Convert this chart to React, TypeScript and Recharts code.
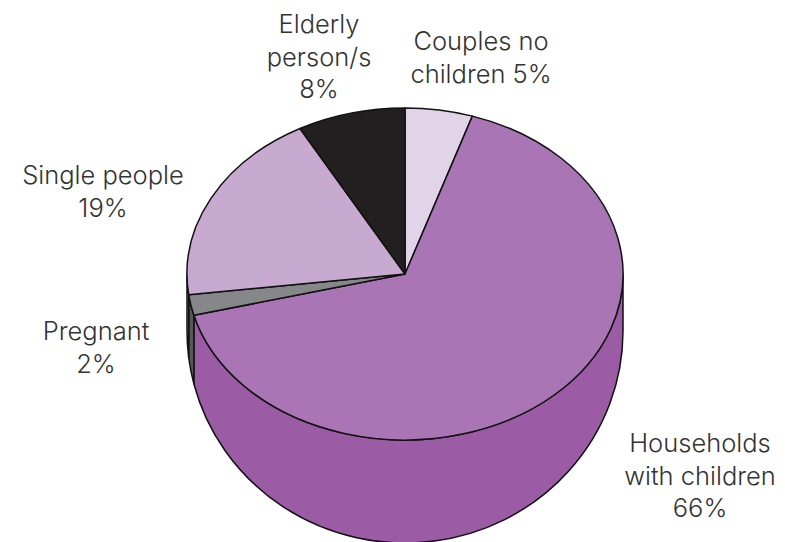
import { Pie, PieChart, Cell } from "recharts";

const categories = ["Couples no children", "Households with children", "Pregnant", "Single people", "Elderly person/s"];
const shares = [5, 66, 2, 19, 8];
const labelLines = [
  ["Couples no", "children 5%"],
  ["Households", "with children", "66%"],
  ["Pregnant", "2%"],
  ["Single people", "19%"],
  ["Elderly", "person/s", "8%"],
];
const topColors = ["#e2d4e8", "#a975b4", "#858788", "#c8a9d0", "#231f20"];
const sideColors = ["#c6b3cf", "#9b5ba5", "#58595b", "#b592c0", "#111111"];

const tableData = categories.map((name, i) => ({ name, value: shares[i] }));

const WIDTH = 785;
const HEIGHT = 542;
const CX = 405;
const CY = 274;
const RADIUS = 218;
const SQUASH = 166 / 218; // vertical flattening of the disc
// lower edge of the wall is a rounder arc than the disc rim
const BASE_CY = 331;
const BASE_RY = 212;

// centre x and first baseline of each text block
const labelSpots = [
  { x: 481, y: 50 },
  { x: 700, y: 452 },
  { x: 96, y: 340 },
  { x: 103, y: 184 },
  { x: 319, y: 33 },
];
const LINE_HEIGHT = 32.5;

const rad = (deg: number) => (deg * Math.PI) / 180;
const rimX = (cx: number, r: number, deg: number) => cx + r * Math.cos(rad(deg));
const rimY = (cy: number, r: number, deg: number) => cy - r * SQUASH * Math.sin(rad(deg));
const baseY = (deg: number) => BASE_CY - BASE_RY * Math.sin(rad(deg));

// Flattened wedge for the top face
function TopSlice(props: any) {
  const { cx, cy, outerRadius: r, startAngle, endAngle, fill } = props;
  const large = Math.abs(endAngle - startAngle) > 180 ? 1 : 0;
  const sweep = endAngle < startAngle ? 1 : 0;
  const d = [
    `M ${cx} ${cy}`,
    `L ${rimX(cx, r, startAngle)} ${rimY(cy, r, startAngle)}`,
    `A ${r} ${r * SQUASH} 0 ${large} ${sweep} ${rimX(cx, r, endAngle)} ${rimY(cy, r, endAngle)}`,
    "Z",
  ].join(" ");
  return <path d={d} fill={fill} stroke="#111" strokeWidth={1.5} strokeLinejoin="round" />;
}

// Outer wall below a slice; only the front half of the rim can be seen
function WallSlice(props: any) {
  const { cx, cy, outerRadius: r, startAngle, endAngle, fill } = props;
  const from = Math.min(startAngle, 0);
  const to = Math.max(endAngle, -180);
  if (from <= to) return null;
  const large = from - to > 180 ? 1 : 0;
  const x1 = rimX(cx, r, from);
  const x2 = rimX(cx, r, to);
  const d = [
    `M ${x1} ${rimY(cy, r, from)}`,
    `A ${r} ${r * SQUASH} 0 ${large} 1 ${x2} ${rimY(cy, r, to)}`,
    `L ${x2} ${baseY(to)}`,
    `A ${r} ${BASE_RY} 0 ${large} 0 ${x1} ${baseY(from)}`,
    "Z",
  ].join(" ");
  return <path d={d} fill={fill} stroke="#111" strokeWidth={1.5} strokeLinejoin="round" />;
}

function SliceLabel({ index }: any) {
  const spot = labelSpots[index];
  return (
    <text
      x={spot.x}
      y={spot.y}
      textAnchor="middle"
      fill="#333"
      fontFamily="Inter, sans-serif"
      fontWeight={300}
      fontSize={25.5}
    >
      {labelLines[index].map((line, i) => (
        <tspan key={line} x={spot.x} y={spot.y + i * LINE_HEIGHT}>
          {line}
        </tspan>
      ))}
    </text>
  );
}

export default function App() {
  return (
    <div style={{ position: "absolute", left: 0, top: 0, width: WIDTH, height: HEIGHT, background: "#fff" }}>
      <PieChart width={WIDTH} height={HEIGHT} margin={{ top: 0, right: 0, bottom: 0, left: 0 }}>
        <Pie
          data={tableData}
          dataKey="value"
          nameKey="name"
          cx={CX}
          cy={CY}
          innerRadius={0}
          outerRadius={RADIUS}
          startAngle={90}
          endAngle={-270}
          paddingAngle={0}
          shape={WallSlice}
          inactiveShape={WallSlice}
          isAnimationActive={false}
          label={false}
          labelLine={false}
        >
          {sideColors.map((color) => (
            <Cell key={color} fill={color} />
          ))}
        </Pie>
        <Pie
          data={tableData}
          dataKey="value"
          nameKey="name"
          cx={CX}
          cy={CY}
          innerRadius={0}
          outerRadius={RADIUS}
          startAngle={90}
          endAngle={-270}
          paddingAngle={0}
          shape={TopSlice}
          inactiveShape={TopSlice}
          isAnimationActive={false}
          label={SliceLabel}
          labelLine={false}
        >
          {topColors.map((color) => (
            <Cell key={color} fill={color} />
          ))}
        </Pie>
      </PieChart>
    </div>
  );
}
